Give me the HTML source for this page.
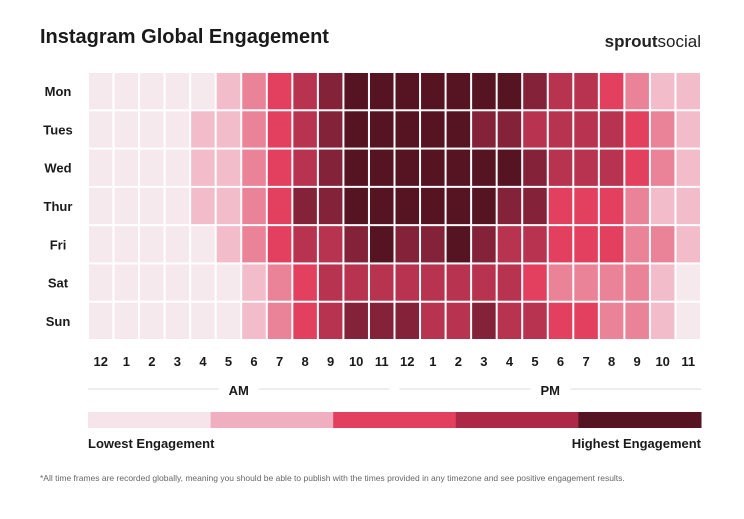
<!DOCTYPE html>
<html><head><meta charset="utf-8"><style>
body{margin:0;background:#fff;font-family:"Liberation Sans",sans-serif;}
#wrap{position:relative;width:744px;height:519px;overflow:hidden;background:#fff}
.t{position:absolute;white-space:nowrap;color:#1a1a1a}
</style></head><body>
<div id="wrap">
<div class="t" style="left:40px;top:26px;font-size:20px;font-weight:bold">Instagram Global Engagement</div>
<div class="t" style="right:43px;top:32px;font-size:17px;color:#222"><b>sprout</b>social</div>
<svg id="chart" width="744" height="519" style="position:absolute;left:0;top:0"></svg>
<div class="t" style="left:40px;top:473px;font-size:8.5px;color:#666">*All time frames are recorded globally, meaning you should be able to publish with the times provided in any timezone and see positive engagement results.</div>
</div>
<script>
const days=["Mon","Tues","Wed","Thur","Fri","Sat","Sun"];
const hours=["12","1","2","3","4","5","6","7","8","9","10","11","12","1","2","3","4","5","6","7","8","9","10","11"];
const levelMon=[0,0,0,0,0,1,2,3,4,5,6,6,6,6,6,6,6,5,4,4,3,2,1,1];
const levelTue=[0,0,0,0,1,1,2,3,4,5,6,6,6,6,6,5,5,4,4,4,4,3,2,1];
const levelWed=[0,0,0,0,1,1,2,3,4,5,6,6,6,6,6,6,6,5,4,4,4,3,2,1];
const levelThu=[0,0,0,0,1,1,2,3,5,5,6,6,6,6,6,6,5,5,3,3,3,2,1,1];
const levelFri=[0,0,0,0,0,1,2,3,4,4,5,6,5,5,6,5,4,4,3,3,3,2,2,1];
const levelSat=[0,0,0,0,0,0,1,2,3,4,4,4,4,4,4,4,4,3,2,2,2,2,1,0];
const levelSun=[0,0,0,0,0,0,1,2,3,4,5,5,5,4,4,5,4,4,3,3,2,2,1,0];
const levels=[levelMon,levelTue,levelWed,levelThu,levelFri,levelSat,levelSun];
const palette=["#f6e9ed","#f3bccb","#ea8298","#e33f5f","#b8334f","#84223a","#561321"];
const legendColors=["#f6e4ea","#efafc0","#e33f5f","#ad2846","#561321"];
const NS="http://www.w3.org/2000/svg";
const svg=document.getElementById('chart');
const x0=88,x1=701,y0=72,y1=340;
const cw=(x1-x0)/hours.length, ch=(y1-y0)/days.length;
const xPos=i=>x0+i*cw, yPos=j=>y0+j*ch;
function mk(tag,attrs){const e=document.createElementNS(NS,tag);for(const k in attrs)e.setAttribute(k,attrs[k]);svg.appendChild(e);return e;}
levels.forEach((row,j)=>{row.forEach((v,i)=>{
 const r=mk('rect',{x:xPos(i)+1,y:yPos(j)+1,width:cw-2,height:ch-2,fill:palette[v]});
 
 
});});
days.forEach((d,j)=>{
 const t=mk('text',{x:58,y:yPos(j)+ch/2+5,'text-anchor':'middle','font-size':13,'font-weight':'bold',fill:'#1a1a1a','font-family':'Liberation Sans'});
 t.textContent=d;
 
 
});
hours.forEach((h,i)=>{
 const t=mk('text',{x:xPos(i)+cw/2,y:366,'text-anchor':'middle','font-size':13,'font-weight':'bold',fill:'#1a1a1a','font-family':'Liberation Sans'});
 t.textContent=h;
 
 
});
[[x0,xPos(12)-5,'AM'],[xPos(12)+5,x1,'PM']].forEach(([a,b,l])=>{
 const ln=mk('line',{x1:a,x2:b,y1:389,y2:389,stroke:'#ddd','stroke-width':1});
 
 
 const bg=mk('rect',{x:(a+b)/2-20,y:380,width:40,height:18,fill:'#fff'});
 const t=mk('text',{x:(a+b)/2,y:395,'text-anchor':'middle','font-size':13,'font-weight':'bold',fill:'#1a1a1a','font-family':'Liberation Sans'});
 t.textContent=l;
 
 
});
const lw=(x1-x0)/legendColors.length;
legendColors.forEach((c,i)=>{
 const r=mk('rect',{x:x0+i*lw,y:412,width:lw+0.5,height:16,fill:c});
 
 
});
[[x0,'start','Lowest Engagement'],[x1,'end','Highest Engagement']].forEach(([x,a,l])=>{
 const t=mk('text',{x:x,y:448,'text-anchor':a,'font-size':13,'font-weight':'bold',fill:'#1a1a1a','font-family':'Liberation Sans'});
 t.textContent=l;
 
 
});
</script>
</body></html>
